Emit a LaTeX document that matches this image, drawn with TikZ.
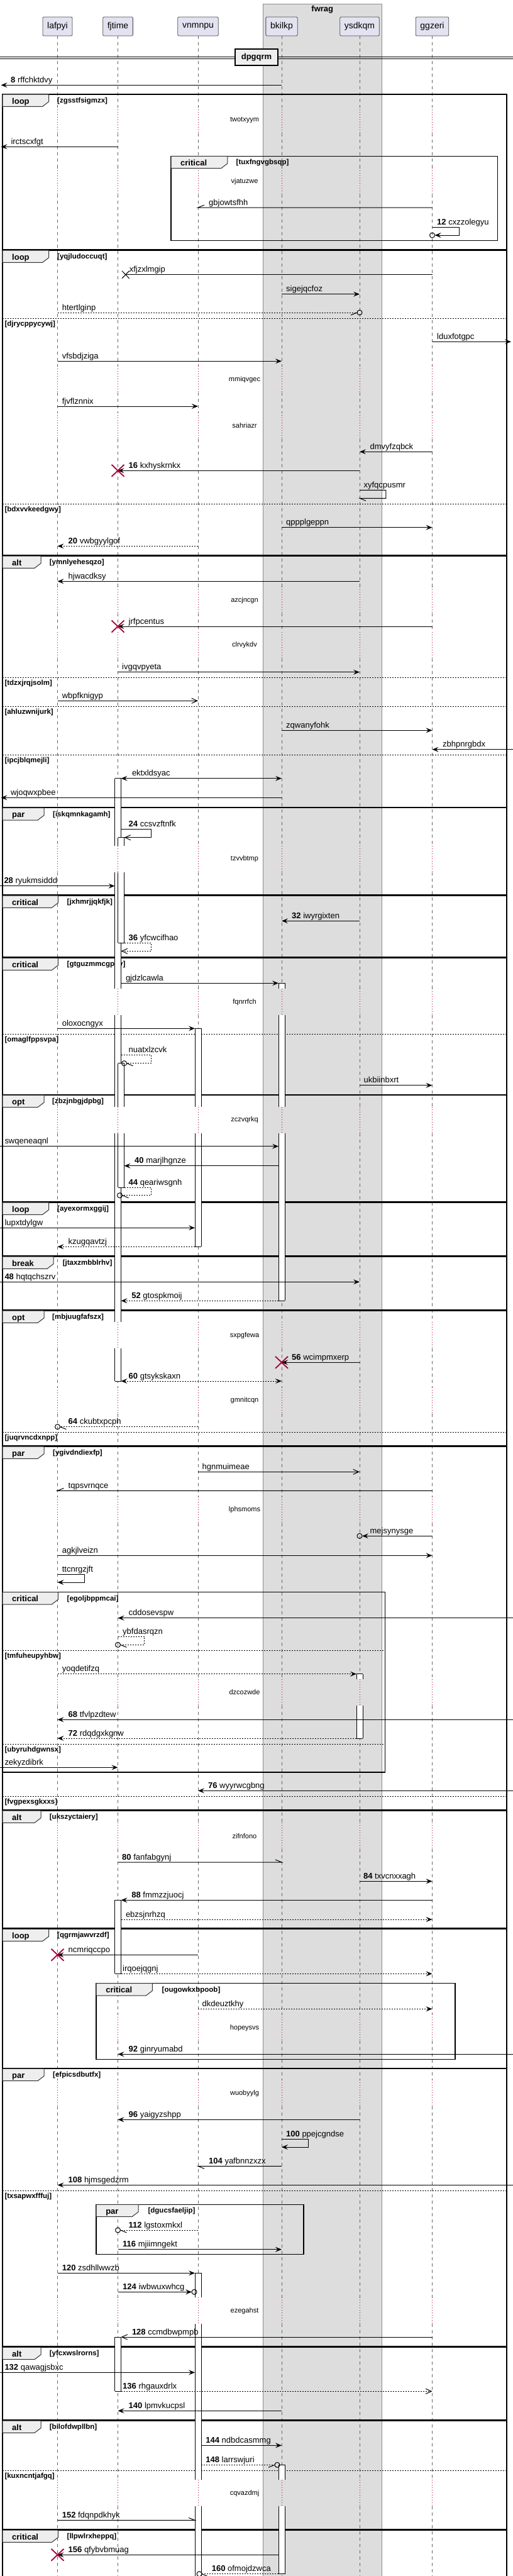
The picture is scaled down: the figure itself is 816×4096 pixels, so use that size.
\documentclass[tikz,border=0pt]{standalone}
\usepackage{fontspec}
\setmainfont{Liberation Sans}
\usetikzlibrary{arrows.meta,calc}
\definecolor{pfill}{HTML}{E2E2F0}
\definecolor{boxg}{HTML}{DDDDDD}
\definecolor{tabf}{HTML}{EEEEEE}
\definecolor{dred}{HTML}{A80036}
\definecolor{lgray}{HTML}{666666}
\newcounter{nodec}
\tikzset{
 m/.style={line width=1pt,black},
 md/.style={m,dash pattern=on 2pt off 2pt},
 fa/.style={-{Stealth[length=10pt,width=8pt,inset=4pt]}},
 fb/.style={{Stealth[length=10pt,width=8pt,inset=4pt]}-{Stealth[length=10pt,width=8pt,inset=4pt]}},
 oa/.style={-{Straight Barb[length=9pt,width=8pt]}},
 ll/.style={lgray,line width=0.7pt,dash pattern=on 5pt off 5pt},
 dl/.style={dred,line width=0.8pt,dash pattern=on 1pt off 3pt},
 part/.style={draw=black!70,fill=pfill,line width=0.8pt,rounded corners=2pt,minimum height=30pt,inner sep=0pt,font=\fontsize{14}{16}\selectfont},
 lab/.style={anchor=base west,inner sep=0pt,font=\fontsize{13}{15}\selectfont},
 dlab/.style={inner sep=0pt,font=\fontsize{11}{13}\selectfont},
 cnd/.style={anchor=base west,inner sep=0pt,font=\fontsize{11.5}{13}\selectfont\bfseries},
 tabl/.style={anchor=base west,inner sep=0pt,font=\fontsize{13}{15}\selectfont\bfseries},
 frame/.style={black,line width=1.5pt},
 tabst/.style={draw=black!80,line width=1pt,fill=tabf},
 elsl/.style={black,line width=1pt,dash pattern=on 2pt off 2pt},
 bl/.style={black,line width=1pt},
 xr/.style={dred,line width=1.8pt}
}
\newcommand\mlab[3]{\stepcounter{nodec}\node[lab] (t\arabic{nodec}) at (#1,#2-4) {#3};}
\newcommand\mnum[4]{\stepcounter{nodec}\node[lab] (t\arabic{nodec}) at (#1,#2-4) {\textbf{#3} #4};}
\newcommand\delayt[2]{\stepcounter{nodec}\node[dlab] (d\arabic{nodec}) at (389,#1) {#2};}
\newcommand\redx[2]{\draw[xr] ($(#1 |- 0,#2)+(-10,-9.5)$) -- ($(#1 |- 0,#2)+(10,9.5)$) ($(#1 |- 0,#2)+(-10,9.5)$) -- ($(#1 |- 0,#2)+(10,-9.5)$);}
\newcommand\grp[8]{%
 \draw[frame] (#1,#2) rectangle (#3,#4);
 \draw[tabst] (#1,#2) -- (#1+#6,#2) -- (#1+#6,#2+11.7) -- (#1+#6-10,#2+19.3) -- (#1,#2+19.3) -- cycle;
 \stepcounter{nodec}\node[tabl] (g\arabic{nodec}) at (#1+15,#2+15) {#5};
 \stepcounter{nodec}\node[cnd] (g\arabic{nodec}) at (#1+#8,#2+13.5) {[#7]};
}
\newcommand\grpelse[4]{\draw[elsl] (#1,#3) -- (#2,#3); \stepcounter{nodec}\node[cnd] (e\arabic{nodec}) at (#1+3.3,#3+12) {[#4]};}
\newcommand\actp[4]{\fill[white] (#1,#3) rectangle (#2,#4); \draw[bl] (#1,#3) -- (#1,#4) (#2,#3) -- (#2,#4);}
\newcommand\actc[3]{\draw[bl] (#1,#3) -- (#2,#3);}
\begin{document}
\begin{tikzpicture}[x=1pt,y=-1pt]
\useasboundingbox (0,0) rectangle (816,4096);
\clip (0,0) rectangle (816,4096);
\fill[white] (0,0) rectangle (816,4096);
% box fwrag
\filldraw[fill=boxg,draw=black!45,line width=0.8pt] (418.5,6) rectangle (607.2,4110);
\node[font=\fontsize{13}{15}\selectfont\bfseries,inner sep=0pt] (fwrag) at (512.8,15) {fwrag};
% lifelines
\foreach \x in {91.5,187.5,315,448,572,687.5}{
 \foreach \a/\b in {57/169.7,211.7/267.3,309.3/582.3,624.3/655.7,697.7/933.3,975.3/1005,1047/1345.3,1387.3/1572.3,1614.3/1759.7,1801.7/2102.3,2144.3/2205.7,2247.7/2379.7,2421.7/2670,2712/2898.3,2940.3/3203.3,3245.3/3307.3,3349.3/3653.3,3695.3/3943.3,3985.3/4100}{
  \draw[ll] (\x,\a) -- (\x,\b);}
 \foreach \d in {190.7,288.3,603.3,676.7,954.3,1026,1366,1593.3,1780.7,2123.3,2226.7,2400.7,2691,2919.3,3224.3,3328.3,3674.3,3964.3}{
  \draw[dl] (\x,\d-21) -- (\x,\d+21);}
}
% participants
\node[part,minimum width=47pt] (lafpyi) at (91.5,42) {lafpyi};
\node[part,minimum width=47.7pt] (fjtime) at (187.5,42) {fjtime};
\node[part,minimum width=64.5pt] (vnmnpu) at (315,42) {vnmnpu};
\node[part,minimum width=50.3pt] (bkilkp) at (448,42) {bkilkp};
\node[part,minimum width=62.4pt] (ysdkqm) at (572,42) {ysdkqm};
\node[part,minimum width=52.5pt] (ggzeri) at (687.5,42) {ggzeri};
\coordinate (EL) at (0,0); \coordinate (ELt) at (1.5,0);
\coordinate (ER) at (816,0); \coordinate (ERt) at (813,0);
\coordinate (fjL) at (182.5,0); \coordinate (fjR) at (192.5,0); \coordinate (fjRR) at (197.5,0);
\coordinate (vnL) at (310,0); \coordinate (vnR) at (320,0);
\coordinate (bkL) at (443,0); \coordinate (ysL) at (567,0);
% separator
\draw[line width=1pt] (0,90.3) -- (816,90.3) (0,93.7) -- (816,93.7);
\node[draw=black,line width=1.5pt,fill=tabf,minimum width=68pt,minimum height=26pt,inner sep=0pt,font=\fontsize{13}{15}\selectfont\bfseries] (sep) at (408,91) {dpgqrm};
% groups
\grp{4}{150}{806}{396.7}{loop}{73.6}{zgsstfsigmzx}{87}
\grp{272}{248.3}{791.3}{382.3}{critical}{89.8}{tuxfngvgbsqp}{103.5}
\grp{4}{398}{806}{882.7}{loop}{73.6}{yqjludoccuqt}{87}
\grpelse{4}{806}{506}{djrycppycywj}
\grpelse{4}{806}{801.3}{bdxvvkeedgwy}
\grp{4}{884}{806}{1283.3}{alt}{61}{ymnlyehesqzo}{74.7}
\grpelse{4}{806}{1077.3}{tdzxjrqjsolm}
\grpelse{4}{806}{1123.3}{ahluzwnijurk}
\grpelse{4}{806}{1200.3}{ipcjblqmejli}
\grp{4}{1284.7}{806}{1422.7}{par}{66}{iskqmnkagamh}{80}
\grp{4}{1424}{806}{1522}{critical}{88.3}{jxhmrjjqkfjk}{102.5}
\grp{4}{1523.3}{806}{1740.7}{critical}{88.3}{gtguzmmcgpny}{102.5}
\grpelse{4}{806}{1644.3}{omaglfppsvpa}
\grp{4}{1741.3}{806}{1910.7}{opt}{66}{zbzjnbgjdpbg}{79}
\grp{4}{1912}{806}{1996.7}{loop}{73.6}{ayexormxggij}{87}
\grp{4}{1998}{806}{2082.7}{break}{81}{jtaxzmbblrhv}{95.6}
\grp{4}{2084}{806}{2298.7}{opt}{66}{mbjuugfafszx}{79}
\grpelse{4}{806}{2277.3}{juqrvncdxnpp}
\grp{4}{2300}{806}{2877.3}{par}{66}{ygivdndiexfp}{80}
\grpelse{4}{806}{2856}{fvgpexsgkxxs}
\grp{4}{2531.7}{612.5}{2818}{critical}{88.3}{egoljbppmcai}{102.5}
\grpelse{4}{612.5}{2624.3}{tmfuheupyhbw}
\grpelse{4}{612.5}{2773}{ubyruhdgwnsx}
\grp{4}{2879}{806}{3066}{alt}{61}{ukszyctaiery}{74.7}
\grp{4}{3067.3}{806}{3288.3}{loop}{73.6}{qgrmjawvrzdf}{87}
\grp{153.1}{3153.7}{724.2}{3274.3}{critical}{89.2}{ougowkxbpoob}{104.4}
\grp{4}{3289.3}{806}{3731}{par}{66}{efpicsdbutfx}{80}
\grpelse{4}{806}{3483.3}{txsapwxfffuj}
\grp{153.1}{3505.3}{483}{3584.3}{par}{67}{dgucsfaeljip}{82.3}
\grp{4}{3732.3}{806}{3847.7}{alt}{61}{yfcxwslrorns}{74.7}
\grp{4}{3849}{806}{4021.7}{alt}{61}{bilofdwpllbn}{74.7}
\grpelse{4}{806}{3928.3}{kuxncntjafgq}
\grp{4}{4023}{806}{4130}{critical}{88.3}{llpwlrxheppq}{102.5}
% activation bars
\actp{182.5}{192.5}{1237.7}{1345.3}\actp{182.5}{192.5}{1387.3}{1572.3}\actp{182.5}{192.5}{1614.3}{1759.7}\actp{182.5}{192.5}{1801.7}{2102.3}\actp{182.5}{192.5}{2144.3}{2196}
\actc{182.5}{192.5}{1237.7}\actc{182.5}{192.5}{2196}
\actp{187.5}{197.5}{1331.7}{1345.3}\actp{187.5}{197.5}{1387.3}{1499.3}\actc{187.5}{197.5}{1331.7}\actc{187.5}{197.5}{1499.3}
\actp{187.5}{197.5}{1690.7}{1759.7}\actp{187.5}{197.5}{1801.7}{1888.3}\actc{187.5}{197.5}{1690.7}\actc{187.5}{197.5}{1888.3}
\actp{443}{453}{1563.3}{1572.3}\actp{443}{453}{1614.3}{1759.7}\actp{443}{453}{1801.7}{2068.3}\actc{443}{453}{1563.3}\actc{443}{453}{2068.3}
\actp{310}{320}{1635.3}{1759.7}\actp{310}{320}{1801.7}{1982.3}\actc{310}{320}{1635.3}\actc{310}{320}{1982.3}
\actp{567}{577}{2661.7}{2670}\actp{567}{577}{2712}{2764}\actc{567}{577}{2661.7}\actc{567}{577}{2764}
\actp{182.5}{192.5}{3021.3}{3138.3}\actc{182.5}{192.5}{3021.3}\actc{182.5}{192.5}{3138.3}
\actp{310}{320}{3614.3}{3653.3}\actp{310}{320}{3695.3}{3943.3}\actp{310}{320}{3985.3}{4110}\actc{310}{320}{3614.3}
\actp{182.5}{192.5}{3716}{3802.3}\actc{182.5}{192.5}{3716}\actc{182.5}{192.5}{3802.3}
\actp{443}{453}{3919.3}{3943.3}\actp{443}{453}{3985.3}{4092.7}\actc{443}{453}{3919.3}\actc{443}{453}{4092.7}
% delays
\delayt{190.7}{twotxyym}\delayt{288.3}{vjatuzwe}\delayt{603.3}{mmiqvgec}\delayt{676.7}{sahriazr}
\delayt{954.3}{azcjncgn}\delayt{1026}{clrvykdv}\delayt{1366}{tzvvbtmp}\delayt{1593.3}{fqnrrfch}
\delayt{1780.7}{zczvqrkq}\delayt{2123.3}{sxpgfewa}\delayt{2226.7}{gmnitcqn}\delayt{2400.7}{lphsmoms}
\delayt{2691}{dzcozwde}\delayt{2919.3}{zifnfono}\delayt{3224.3}{hopeysvs}\delayt{3328.3}{wuobyylg}
\delayt{3674.3}{ezegahst}\delayt{3964.3}{cqvazdmj}
% messages
\draw[m,fa] (bkilkp |- 0,135.3) -- (ELt |- 0,135.3); \mnum{17}{135.3}{8}{rffchktdvy}
\draw[m,fa] (fjtime |- 0,233.3) -- (ELt |- 0,233.3); \mlab{17.3}{233.3}{irctscxfgt}
\draw[m] (ggzeri |- 0,330) -- (vnmnpu |- 0,330) -- ++(10,-4); \mlab{332}{330}{gbjowtsfhh}
\draw[m,fa] (ggzeri |- 0,361.7) -- ++(42.5,0) -- ++(0,12.3) -- ($(ggzeri |- 0,374)+(4,0)$);
\draw[m] (ggzeri |- 0,374) circle (4); \mnum{695}{361.7}{12}{cxzzolegyu}
\draw[m] (ggzeri |- 0,436.7) -- ($(fjtime |- 0,436.7)+(12.3,0)$);
\draw[m] ($(fjtime |- 0,436.7)+(6.5,-6)$) -- ($(fjtime |- 0,436.7)+(18.1,6)$) ($(fjtime |- 0,436.7)+(6.5,6)$) -- ($(fjtime |- 0,436.7)+(18.1,-6)$);
\mlab{205.6}{436.7}{xfjzxlmgip}
\draw[m,fa] (bkilkp |- 0,467.7) -- (ysdkqm |- 0,467.7); \mlab{455}{467.7}{sigejqcfoz}
\draw[md] (lafpyi |- 0,497) -- ($(ysdkqm |- 0,497)+(-4,0)$);
\draw[m] ($(ysdkqm |- 0,497)+(-4,0)$) -- ++(-10,4); \draw[m] (ysdkqm |- 0,497) circle (4);
\mlab{98.6}{497}{htertlginp}
\draw[m,fa] (ggzeri |- 0,543.3) -- (ERt |- 0,543.3); \mlab{695}{543.3}{lduxfotgpc}
\draw[m,fa] (lafpyi |- 0,574.3) -- (bkilkp |- 0,574.3); \mlab{98.6}{574.3}{vfsbdjziga}
\draw[m,fa] (lafpyi |- 0,646) -- (vnmnpu |- 0,646); \mlab{98.6}{646}{fjvflznnix}
\draw[m,fa] (ggzeri |- 0,718.3) -- (ysdkqm |- 0,718.3); \mlab{588.4}{718.3}{dmvyfzqbck}
\draw[m,fa] (ysdkqm |- 0,748.3) -- (fjtime |- 0,748.3); \redx{fjtime}{748.3} \mnum{204.5}{748.3}{16}{kxhyskrnkx}
\draw[m] (ysdkqm |- 0,779.3) -- ++(41.9,0) -- ++(0,13) -- (ysdkqm |- 0,792.3) -- ++(10,4); \mlab{578.4}{779.3}{xyfqcpusmr}
\draw[m,fa] (bkilkp |- 0,838.7) -- (ggzeri |- 0,838.7); \mlab{455}{838.7}{qppplgeppn}
\draw[md,fa] (vnmnpu |- 0,868.3) -- (lafpyi |- 0,868.3); \mnum{108.5}{868.3}{20}{vwbgyylgof}
\draw[m,fa] (ysdkqm |- 0,924.3) -- (lafpyi |- 0,924.3); \mlab{108.5}{924.3}{hjwacdksy}
\draw[m,fa] (ggzeri |- 0,996) -- (fjtime |- 0,996); \redx{fjtime}{996} \mlab{204.5}{996}{jrfpcentus}
\draw[m,fa] (fjtime |- 0,1068.7) -- (ysdkqm |- 0,1068.7); \mlab{194}{1068.7}{ivgqvpyeta}
\draw[m,oa] (lafpyi |- 0,1114.3) -- (vnmnpu |- 0,1114.3); \mlab{98.6}{1114.3}{wbpfknigyp}
\draw[m,fa] (bkilkp |- 0,1161.3) -- (ggzeri |- 0,1161.3); \mlab{455}{1161.3}{zqwanyfohk}
\draw[m,fa] (ER |- 0,1191.7) -- (ggzeri |- 0,1191.7); \mlab{704}{1191.7}{zbhpnrgbdx}
\draw[m,fb] (fjR |- 0,1237.7) -- (bkilkp |- 0,1237.7); \mlab{209.8}{1237.7}{ektxldsyac}
\draw[m,fa] (bkilkp |- 0,1268.3) -- (ELt |- 0,1268.3); \mlab{16.8}{1268.3}{wjoqwxpbee}
\draw[m,oa] (fjR |- 0,1318.7) -- ++(47.5,0) -- ++(0,13) -- (fjRR |- 0,1331.7); \mnum{204.5}{1318.7}{24}{ccsvzftnfk}
\draw[m,fa] (EL |- 0,1408.7) -- (fjL |- 0,1408.7); \mnum{6.3}{1408.7}{28}{ryukmsiddd}
\draw[m,fa] (ysdkqm |- 0,1464.3) -- (bkilkp |- 0,1464.3); \mnum{464}{1464.3}{32}{iwyrgixten}
\draw[md,oa] (fjRR |- 0,1499.3) -- ++(42.5,0) -- ++(0,13) -- (fjR |- 0,1512.3); \mnum{204.5}{1499.3}{36}{yfcwcifhao}
\draw[m,fa] (fjR |- 0,1563.3) -- (bkL |- 0,1563.3); \mlab{199.8}{1563.3}{gjdzlcawla}
\draw[m,fa] (lafpyi |- 0,1635.3) -- (vnL |- 0,1635.3); \mlab{98.6}{1635.3}{oloxocngyx}
\draw[md] (fjR |- 0,1677.3) -- ++(47.5,0) -- ++(0,13.4) -- ($(fjRR |- 0,1690.7)+(4,0)$);
\draw[m] ($(fjRR |- 0,1690.7)+(4,0)$) -- ++(10,4); \draw[m] (fjRR |- 0,1690.7) circle (4);
\mlab{204.5}{1677.3}{nuatxlzcvk}
\draw[m,fa] (ysdkqm |- 0,1725.7) -- (ggzeri |- 0,1725.7); \mlab{578.4}{1725.7}{ukbiinbxrt}
\draw[m,fa] (EL |- 0,1822.7) -- (bkL |- 0,1822.7); \mlab{7.3}{1822.7}{swqeneaqnl}
\draw[m,fa] (bkL |- 0,1853.7) -- (fjRR |- 0,1853.7); \mnum{214}{1853.7}{40}{marjlhgnze}
\draw[md] (fjRR |- 0,1888.3) -- ++(42.5,0) -- ++(0,12.4) -- ($(fjR |- 0,1900.7)+(2,0)$);
\draw[m] ($(fjR |- 0,1900.7)+(2,0)$) -- ++(10,4); \draw[m] ($(fjR |- 0,1900.7)+(-2,0)$) circle (4);
\mnum{204.5}{1888.3}{44}{qeariwsgnh}
\draw[m,fa] (EL |- 0,1952.3) -- (vnL |- 0,1952.3); \mlab{7.3}{1952.3}{lupxtdylgw}
\draw[md,fa] (vnL |- 0,1982.3) -- (lafpyi |- 0,1982.3); \mlab{108.5}{1982.3}{kzugqavtzj}
\draw[m,fa] (EL |- 0,2038.3) -- (ysdkqm |- 0,2038.3); \mnum{7.3}{2038.3}{48}{hqtqchszrv}
\draw[md,fa] (bkL |- 0,2068.3) -- (fjR |- 0,2068.3); \mnum{209.2}{2068.3}{52}{gtospkmoij}
\draw[m,fa] (ysdkqm |- 0,2166.3) -- (bkilkp |- 0,2166.3); \redx{bkilkp}{2166.3} \mnum{464}{2166.3}{56}{wcimpmxerp}
\draw[md,fb] (fjR |- 0,2196) -- (bkilkp |- 0,2196); \mnum{204.5}{2196}{60}{gtsykskaxn}
\draw[md] (vnmnpu |- 0,2268.7) -- ($(lafpyi |- 0,2268.7)+(4,0)$);
\draw[m] ($(lafpyi |- 0,2268.7)+(4,0)$) -- ++(10,4); \draw[m] (lafpyi |- 0,2268.7) circle (4);
\mnum{108.5}{2268.7}{64}{ckubtxpcph}
\draw[m,oa] (vnmnpu |- 0,2340.3) -- (ysdkqm |- 0,2340.3); \mlab{321.4}{2340.3}{hgnmuimeae}
\draw[m] (ggzeri |- 0,2370.3) -- (lafpyi |- 0,2370.3) -- ++(10,-4); \mlab{108.5}{2370.3}{tqpsvrnqce}
\draw[m,fa] (ggzeri |- 0,2442.3) -- ($(ysdkqm |- 0,2442.3)+(4,0)$); \draw[m] (ysdkqm |- 0,2442.3) circle (4); \mlab{588.4}{2442.3}{mejsynysge}
\draw[m,fa] (lafpyi |- 0,2473.3) -- (ggzeri |- 0,2473.3); \mlab{98.6}{2473.3}{agkjlveizn}
\draw[m,fa] (lafpyi |- 0,2503.3) -- ++(42.7,0) -- ++(0,12.7) -- (lafpyi |- 0,2516); \mlab{98.6}{2503.3}{ttcnrgzjft}
\draw[m,fa] (ER |- 0,2572.7) -- (fjtime |- 0,2572.7); \mlab{204.5}{2572.7}{cddosevspw}
\draw[md] (fjtime |- 0,2602.3) -- ++(42.2,0) -- ++(0,13) -- ($(fjtime |- 0,2615.3)+(4,0)$);
\draw[m] ($(fjtime |- 0,2615.3)+(4,0)$) -- ++(10,4); \draw[m] (fjtime |- 0,2615.3) circle (4);
\mlab{195}{2602.3}{ybfdasrqzn}
\draw[md,fa] (lafpyi |- 0,2661.7) -- (ysL |- 0,2661.7); \mlab{98.6}{2661.7}{yoqdetifzq}
\draw[m,fa] (ER |- 0,2734.3) -- (lafpyi |- 0,2734.3); \mnum{108.5}{2734.3}{68}{tfvlpzdtew}
\draw[md,fa] (ysL |- 0,2764) -- (lafpyi |- 0,2764); \mnum{108.5}{2764}{72}{rdqdgxkgnw}
\draw[m,fa] (EL |- 0,2810.3) -- (fjtime |- 0,2810.3); \mlab{7.3}{2810.3}{zekyzdibrk}
\draw[m,fa] (ER |- 0,2847.3) -- (vnmnpu |- 0,2847.3); \mnum{330.9}{2847.3}{76}{wyyrwcgbng}
\draw[m] (fjtime |- 0,2961) -- (bkilkp |- 0,2961) -- ++(-10,-4); \mnum{194}{2961}{80}{fanfabgynj}
\draw[m,fa] (ysdkqm |- 0,2991.3) -- (ggzeri |- 0,2991.3); \mnum{577.9}{2991.3}{84}{txvcnxxagh}
\draw[m,fa] (ggzeri |- 0,3021.3) -- (fjR |- 0,3021.3); \mnum{209.2}{3021.3}{88}{fmmzzjuocj}
\draw[md,fa] (fjR |- 0,3052) -- (ggzeri |- 0,3052); \mlab{199.8}{3052}{ebzsjnrhzq}
\draw[m,fa] (vnmnpu |- 0,3108.3) -- (lafpyi |- 0,3108.3); \redx{lafpyi}{3108.3} \mlab{108.5}{3108.3}{ncmriqccpo}
\draw[md,fa] (fjR |- 0,3138.3) -- (ggzeri |- 0,3138.3); \mlab{195}{3138.3}{irqoejqgnj}
\draw[md,fa] (vnmnpu |- 0,3194.3) -- (ggzeri |- 0,3194.3); \mlab{321.4}{3194.3}{dkdeuztkhy}
\draw[m,fa] (ER |- 0,3266.3) -- (fjtime |- 0,3266.3); \mnum{204.5}{3266.3}{92}{ginryumabd}
\draw[m,fa] (ysdkqm |- 0,3370.3) -- (fjtime |- 0,3370.3); \mnum{204.5}{3370.3}{96}{yaigyzshpp}
\draw[m,fa] (bkilkp |- 0,3401.7) -- ++(42.3,0) -- ++(0,12.3) -- (bkilkp |- 0,3414); \mnum{455}{3401.7}{100}{ppejcgndse}
\draw[m] (bkilkp |- 0,3444.3) -- (vnmnpu |- 0,3444.3) -- ++(10,4); \mnum{332}{3444.3}{104}{yafbnnzxzx}
\draw[m,fa] (ER |- 0,3474.3) -- (lafpyi |- 0,3474.3); \mnum{108.5}{3474.3}{108}{hjmsgedzrm}
\draw[md] (vnmnpu |- 0,3546) -- ($(fjtime |- 0,3546)+(4,0)$);
\draw[m] ($(fjtime |- 0,3546)+(4,0)$) -- ++(10,4); \draw[m] (fjtime |- 0,3546) circle (4);
\mnum{204.5}{3546}{112}{lgstoxmkxl}
\draw[m,fa] (fjtime |- 0,3576.7) -- (bkilkp |- 0,3576.7); \mnum{195}{3576.7}{116}{mjiimngekt}
\draw[m,fa] (lafpyi |- 0,3614.3) -- (vnL |- 0,3614.3); \mnum{98.6}{3614.3}{120}{zsdhllwwzb}
\draw[m,fa] (fjtime |- 0,3644.3) -- ($(vnL |- 0,3644.3)+(-5,0)$); \draw[m] ($(vnL |- 0,3644.3)+(-1,0)$) circle (4);
\mnum{195}{3644.3}{124}{iwbwuxwhcg}
\draw[m,oa] (ggzeri |- 0,3716) -- (fjR |- 0,3716); \mnum{209.8}{3716}{128}{ccmdbwpmpb}
\draw[m,fa] (EL |- 0,3772.3) -- (vnL |- 0,3772.3); \mnum{7.3}{3772.3}{132}{qawagjsbxc}
\draw[md,oa] (fjR |- 0,3802.3) -- (ggzeri |- 0,3802.3); \mnum{195}{3802.3}{136}{rhgauxdrlx}
\draw[m,fa] (bkilkp |- 0,3833.3) -- (fjtime |- 0,3833.3); \mnum{204.5}{3833.3}{140}{lpmvkucpsl}
\draw[m,fa] (vnR |- 0,3888.3) -- (bkilkp |- 0,3888.3); \mnum{327.2}{3888.3}{144}{ndbdcasmmg}
\draw[md] (vnR |- 0,3919.3) -- ($(bkL |- 0,3919.3)+(-6,0)$);
\draw[m] ($(bkL |- 0,3919.3)+(-6,0)$) -- ++(-10,4); \draw[m] ($(bkL |- 0,3919.3)+(-2,0)$) circle (4);
\mnum{327.2}{3919.3}{148}{larrswjuri}
\draw[m] (lafpyi |- 0,4007.3) -- (vnL |- 0,4007.3) -- ++(-10,-4); \mnum{98.6}{4007.3}{152}{fdqnpdkhyk}
\draw[m,fa] (bkL |- 0,4062.3) -- (lafpyi |- 0,4062.3); \redx{lafpyi}{4062.3} \mnum{108.5}{4062.3}{156}{qfybvbmuag}
\draw[md] (bkL |- 0,4092.7) -- ($(vnR |- 0,4092.7)+(1,0)$);
\draw[m] ($(vnR |- 0,4092.7)+(1,0)$) -- ++(10,4); \draw[m] ($(vnR |- 0,4092.7)+(-3,0)$) circle (4);
\mnum{336.6}{4092.7}{160}{ofmojdzwca}
\end{tikzpicture}
\end{document}
